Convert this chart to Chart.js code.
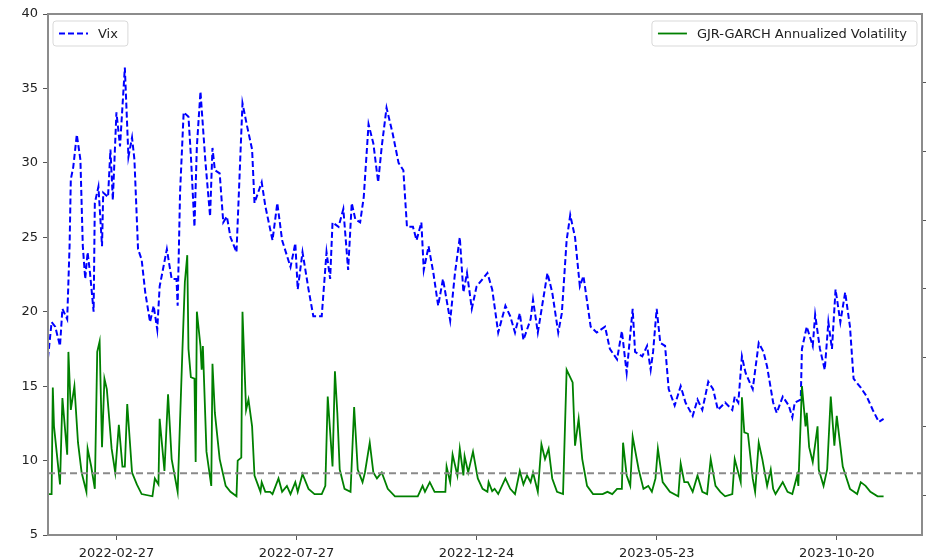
<!DOCTYPE html>
<html>
<head>
<meta charset="utf-8">
<script src="https://cdn.jsdelivr.net/npm/chart.js@4.4.1/dist/chart.umd.min.js"></script>
<style>
  html, body { margin: 0; padding: 0; background: #fff; }
  canvas { display: block; }
</style>
</head>
<body>
<canvas id="volChart" width="928" height="558"></canvas>
<script>
// x values are days counted from 2022-01-01
const vixDays = [0, 3, 6, 10, 12, 16, 18, 19, 21, 24, 27, 29, 31, 33, 35, 38, 39, 42, 45, 46,
  50, 52, 54, 57, 60, 64, 67, 70, 72, 75, 78, 81, 85, 88, 91, 93, 99, 103, 107, 108,
  110, 113, 117, 119, 122, 124, 127, 131, 135, 137, 139, 143, 146, 149, 152, 157, 162, 166, 170, 172,
  178, 181, 187, 191, 195, 202, 206, 208, 212, 217, 221, 228, 232, 235, 237, 242, 246, 250, 253, 256,
  260, 263, 267, 271, 275, 278, 282, 287, 292, 296, 299, 304, 307, 311, 313, 317, 321, 325, 329, 335,
  339, 343, 346, 349, 353, 357, 362, 366, 370, 375, 381, 385, 389, 393, 396, 402, 404, 408, 412, 416,
  420, 425, 428, 432, 435, 439, 443, 446, 452, 457, 464, 468, 474, 478, 482, 487, 489, 495, 499, 502,
  504, 507, 510, 514, 517, 522, 527, 531, 537, 541, 545, 550, 554, 558, 564, 570, 572, 575, 578, 581,
  587, 592, 596, 599, 604, 607, 612, 617, 620, 622, 627, 628, 632, 637, 639, 643, 647, 650, 653, 656,
  660, 664, 668, 671, 677, 682, 687, 692, 696];
const vixValues = [16.9, 19.3, 19.0, 17.7, 20.2, 19.5, 24.5, 28.9, 29.7, 31.9, 30.2, 24.4, 22.2, 24.0, 22.6, 20.0, 27.3, 28.4, 24.4, 28.0,
  27.7, 30.9, 27.5, 33.4, 31.1, 36.4, 30.4, 31.7, 30.2, 24.2, 23.5, 21.3, 19.3, 20.4, 18.8, 21.7, 24.2, 22.2, 22.2, 20.4,
  28.0, 33.4, 33.1, 30.5, 25.7, 31.1, 34.8, 30.2, 26.4, 31.0, 29.5, 29.3, 26.0, 26.4, 25.0, 24.0, 34.0, 32.4, 30.9, 27.3,
  28.7, 27.1, 24.8, 27.3, 24.8, 23.0, 24.6, 21.5, 24.0, 21.5, 19.7, 19.7, 24.0, 22.2, 26.0, 25.7, 26.9, 22.8, 27.3, 26.2,
  26.0, 27.7, 32.6, 31.3, 28.7, 31.1, 33.7, 32.0, 30.0, 29.5, 25.7, 25.7, 24.8, 26.0, 22.8, 24.4, 22.6, 20.4, 22.2, 19.4,
  22.6, 25.0, 21.3, 22.6, 20.2, 21.7, 22.2, 22.6, 21.5, 18.6, 20.4, 19.7, 18.6, 19.9, 18.1, 19.5, 20.8, 18.6, 20.6, 22.6,
  21.3, 18.6, 19.9, 24.8, 26.5, 25.0, 21.7, 22.4, 19.0, 18.6, 19.0, 17.5, 16.8, 18.7, 15.9, 20.2, 17.3, 17.0, 17.7, 16.1,
  17.3, 20.2, 17.9, 17.7, 14.8, 13.7, 15.0, 13.9, 13.0, 14.1, 13.4, 15.3, 14.8, 13.4, 13.9, 13.4, 14.3, 13.9, 17.0, 15.9,
  14.8, 17.9, 17.3, 16.3, 13.9, 13.2, 14.3, 13.7, 12.9, 13.9, 14.1, 17.5, 19.0, 17.7, 19.8, 17.5, 16.1, 19.3, 17.5, 21.5,
  19.3, 21.3, 19.0, 15.5, 14.9, 14.3, 13.4, 12.6, 12.8];

const garchDays = [0, 3, 4, 5, 10, 12, 16, 17, 19, 22, 25, 28, 32, 33, 36, 39, 41, 43, 45, 47,
  49, 53, 56, 59, 62, 64, 66, 70, 74, 78, 87, 89, 92, 93, 97, 100, 103, 108, 112, 114,
  116, 117, 119, 122, 123, 124, 127, 128, 129, 132, 136, 137, 139, 143, 148, 152, 157, 158, 161, 162,
  165, 167, 170, 172, 177, 178, 181, 185, 187, 192, 195, 199, 202, 206, 208, 212, 217, 222, 228, 231,
  233, 237, 239, 241, 243, 247, 252, 255, 258, 262, 264, 268, 271, 274, 278, 283, 289, 308, 312, 314,
  318, 322, 331, 332, 335, 337, 341, 343, 346, 347, 350, 354, 358, 362, 366, 367, 370, 372, 375, 381,
  385, 389, 393, 396, 399, 402, 404, 408, 411, 414, 417, 420, 424, 429, 432, 437, 439, 442, 445, 449,
  454, 462, 466, 470, 474, 478, 479, 482, 485, 487, 492, 496, 500, 503, 506, 508, 512, 518, 525, 527,
  530, 533, 537, 541, 545, 549, 552, 556, 560, 564, 570, 572, 577, 578, 580, 583, 587, 589, 592, 595,
  599, 602, 604, 606, 612, 616, 620, 624, 625, 628, 631, 632, 634, 637, 641, 642, 646, 649, 652, 655,
  657, 662, 664, 668, 674, 677, 681, 685, 691, 696];
const garchValues = [7.75, 7.75, 14.9, 12.3, 8.4, 14.2, 10.4, 17.3, 13.4, 15.0, 11.2, 9.2, 7.9, 10.8, 9.6, 8.1, 17.3, 18.0, 10.9, 15.5,
  14.8, 10.8, 9.2, 12.4, 9.6, 9.6, 13.8, 9.2, 8.4, 7.75, 7.6, 8.8, 8.4, 12.8, 9.3, 14.45, 10.1, 7.9, 17.5, 22.0,
  23.8, 17.5, 15.6, 15.5, 9.9, 20.0, 17.7, 16.1, 17.7, 10.6, 8.3, 16.5, 13.2, 10.1, 8.3, 7.9, 7.6, 10.0, 10.2, 20.0,
  13.4, 14.1, 12.3, 9.0, 7.9, 8.55, 7.9, 7.9, 7.75, 8.8, 7.9, 8.3, 7.75, 8.55, 7.9, 9.1, 8.1, 7.75, 7.75, 8.3,
  14.3, 9.6, 16.0, 13.2, 9.4, 8.1, 7.9, 13.6, 9.4, 8.55, 9.2, 11.2, 9.2, 8.8, 9.2, 8.1, 7.6, 7.6, 8.3, 7.9,
  8.55, 7.9, 7.9, 9.6, 8.55, 10.4, 9.0, 10.8, 9.0, 10.3, 9.2, 10.6, 8.8, 8.1, 7.9, 8.55, 7.95, 8.1, 7.75, 8.8,
  8.1, 7.75, 9.3, 8.4, 9.0, 8.55, 9.2, 7.9, 11.1, 10.1, 10.8, 8.8, 7.9, 7.75, 16.1, 15.25, 11.0, 12.8, 10.1, 8.3,
  7.75, 7.75, 7.9, 7.75, 8.1, 8.1, 11.2, 9.0, 8.3, 11.6, 9.4, 8.1, 8.3, 7.9, 8.8, 10.8, 8.55, 7.9, 7.6, 9.8,
  8.55, 8.55, 7.9, 9.0, 7.9, 7.75, 10.1, 8.3, 7.9, 7.6, 7.75, 10.1, 8.55, 14.25, 11.9, 11.8, 8.8, 7.9, 11.2, 10.1,
  8.3, 9.4, 8.1, 7.75, 8.55, 7.9, 7.75, 9.0, 8.3, 15.0, 12.3, 13.2, 10.9, 9.9, 12.3, 9.4, 8.3, 9.4, 14.3, 11.0,
  13.0, 9.6, 9.1, 8.1, 7.75, 8.55, 8.3, 7.9, 7.6, 7.6];

const meanVol = 9.15;
const xRange = [0, 728];
const xTickDays = [57, 207, 357, 507, 657];
const xTickLabels = ["2022-02-27", "2022-07-27", "2022-12-24", "2023-05-23", "2023-10-20"];
const yTicks = [5, 10, 15, 20, 25, 30, 35, 40];
const rightTicks = [1, 2, 3, 4, 5, 6, 7];

const FONT = "'DejaVu Sans', sans-serif";
const TEXT = "#222";
const FRAME = "#8c8c8c";

function toPoints(xs, ys) {
  return xs.map((x, i) => ({ x: x, y: ys[i] }));
}

// cadre autour de la zone du graphique
const framePlugin = {
  id: "frame",
  afterDraw(chart) {
    const a = chart.chartArea;
    const ctx = chart.ctx;
    ctx.save();
    ctx.strokeStyle = FRAME;
    ctx.lineWidth = 2;
    ctx.strokeRect(a.left, a.top, a.right - a.left, a.bottom - a.top);
    ctx.restore();
  }
};

// deux légendes séparées (haut gauche / haut droite)
function drawLegendBox(ctx, ds, x, y, alignRight) {
  ctx.font = "13px " + FONT;
  const textW = ctx.measureText(ds.label).width;
  const w = 10 + 29 + 9 + textW + 7;
  const h = 25;
  const left = alignRight ? x - w : x;
  ctx.beginPath();
  ctx.roundRect(left, y, w, h, 3);
  ctx.fillStyle = "rgba(255,255,255,0.85)";
  ctx.fill();
  ctx.strokeStyle = "#d9d9d9";
  ctx.lineWidth = 1;
  ctx.stroke();

  ctx.beginPath();
  ctx.setLineDash(ds.borderDash || []);
  ctx.strokeStyle = ds.borderColor;
  ctx.lineWidth = ds.borderWidth;
  ctx.moveTo(left + 6, y + h / 2);
  ctx.lineTo(left + 35, y + h / 2);
  ctx.stroke();
  ctx.setLineDash([]);

  ctx.fillStyle = TEXT;
  ctx.textBaseline = "middle";
  ctx.textAlign = "left";
  ctx.fillText(ds.label, left + 45, y + h / 2 + 1);
}

const legendPlugin = {
  id: "splitLegend",
  afterDraw(chart) {
    const ctx = chart.ctx;
    const a = chart.chartArea;
    const sets = chart.data.datasets;
    ctx.save();
    drawLegendBox(ctx, sets[2], a.left + 5, a.top + 7, false);
    drawLegendBox(ctx, sets[1], a.right - 5, a.top + 7, true);
    ctx.restore();
  }
};

new Chart(document.getElementById("volChart"), {
  type: "line",
  data: {
    datasets: [
      {
        label: "mean",
        data: [{ x: xRange[0], y: meanVol }, { x: xRange[1], y: meanVol }],
        borderColor: "#8a8a8a",
        borderWidth: 2,
        borderDash: [7, 4],
        pointRadius: 0
      },
      {
        label: "GJR-GARCH Annualized Volatility",
        data: toPoints(garchDays, garchValues),
        borderColor: "#008000",
        borderWidth: 1.8,
        pointRadius: 0,
        tension: 0
      },
      {
        label: "Vix",
        data: toPoints(vixDays, vixValues),
        borderColor: "#0000ff",
        borderWidth: 2,
        borderDash: [6, 3],
        pointRadius: 0,
        tension: 0
      }
    ]
  },
  options: {
    responsive: false,
    animation: false,
    layout: { padding: { top: 14, left: 0, right: 0, bottom: 0 } },
    plugins: {
      legend: { display: false },
      tooltip: { enabled: false }
    },
    scales: {
      x: {
        type: "linear",
        min: xRange[0],
        max: xRange[1],
        afterBuildTicks: (scale) => {
          scale.ticks = xTickDays.map((v) => ({ value: v }));
        },
        afterFit: (scale) => { scale.height = 23; },
        ticks: {
          autoSkip: false,
          maxRotation: 0,
          padding: 6,
          color: TEXT,
          font: { family: FONT, size: 13 },
          callback: (v) => xTickLabels[xTickDays.indexOf(v)]
        },
        grid: { display: true, drawOnChartArea: false, drawTicks: true, tickLength: 5, tickColor: "#555", tickWidth: 1 },
        border: { display: false }
      },
      y: {
        position: "left",
        min: 5,
        max: 40,
        afterBuildTicks: (scale) => {
          scale.ticks = yTicks.map((v) => ({ value: v }));
        },
        afterFit: (scale) => { scale.width = 48; },
        ticks: {
          padding: 5,
          color: TEXT,
          font: { family: FONT, size: 13 }
        },
        grid: { display: true, drawOnChartArea: false, drawTicks: true, tickLength: 5, tickColor: "#555", tickWidth: 1 },
        border: { display: false }
      },
      y2: {
        position: "right",
        min: 0.42,
        max: 8.0,
        afterBuildTicks: (scale) => {
          scale.ticks = rightTicks.map((v) => ({ value: v }));
        },
        afterFit: (scale) => { scale.width = 6; },
        ticks: { display: false },
        grid: { display: true, drawOnChartArea: false, drawTicks: true, tickLength: 4, tickColor: "#555", tickWidth: 1 },
        border: { display: false }
      }
    }
  },
  plugins: [framePlugin, legendPlugin]
});
</script>
</body>
</html>
